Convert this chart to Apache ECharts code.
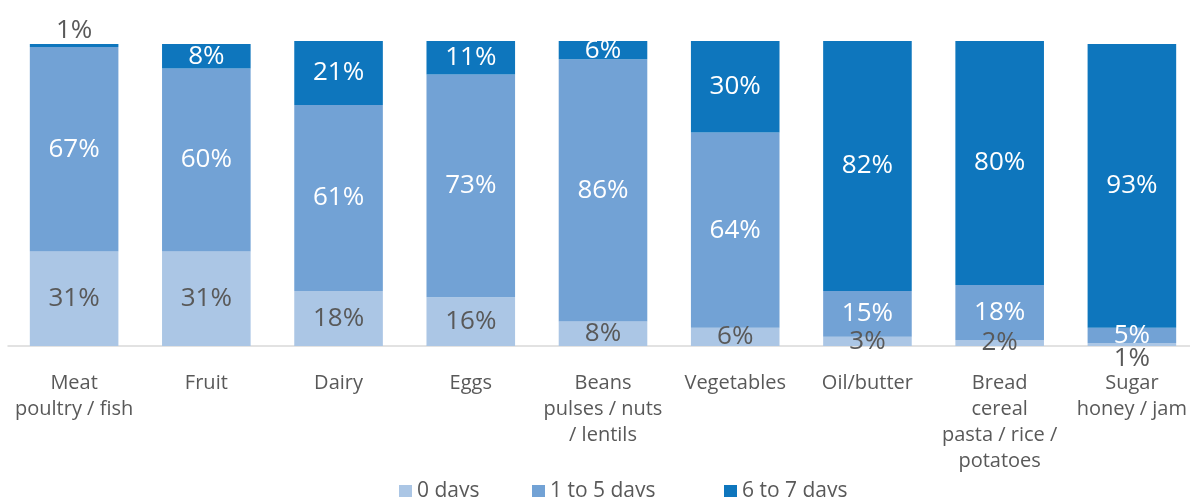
<!DOCTYPE html>
<html lang="en">
<head>
    <meta charset="UTF-8">
    <title>Days eaten per week</title>
    <script type="text/javascript" src="https://cdn.jsdelivr.net/npm/echarts@6/dist/echarts.min.js"></script>
    <style>
        html, body { margin: 0; padding: 0; background: #fff; }
        #main { width: 1190px; height: 497px; }
    </style>
</head>
<body>
<div id="main"></div>
<script type="text/javascript">
    // 数据
    var categories = ['Meat\npoultry / fish', 'Fruit', 'Dairy', 'Eggs', 'Beans\npulses / nuts\n/ lentils',
        'Vegetables', 'Oil/butter', 'Bread\ncereal\npasta / rice /\npotatoes', 'Sugar\nhoney / jam'];
    var zeroDays = [31, 31, 18, 16, 8, 6, 3, 2, 1];
    var oneToFive = [67, 60, 61, 73, 86, 64, 15, 18, 5];
    var sixToSeven = [1, 8, 21, 11, 6, 30, 82, 80, 93];
    var seriesNames = ['0 days', '1 to 5 days', '6 to 7 days'];

    var colors = ['#abc6e5', '#72a2d5', '#0e76bd'];
    var grey = '#595959';
    var font = 'Open Sans';

    var myChart = echarts.init(document.getElementById('main'));

    // 特殊的标签位置
    var lightData = zeroDays.map(function (v, i) {
        if (i === 8) {
            return {value: v, label: {position: 'bottom', distance: 0}};
        }
        return v;
    });
    var darkData = sixToSeven.map(function (v, i) {
        if (i === 0) {
            return {value: v, label: {position: 'top', distance: 0, color: grey}};
        }
        return v;
    });

    function makeSeries(name, data, color, labelColor) {
        return {
            name: name,
            type: 'bar',
            stack: 'total',
            barWidth: '67%',
            data: data,
            itemStyle: {color: color},
            label: {
                show: true,
                position: 'inside',
                formatter: '{c}%',
                color: labelColor,
                fontFamily: font,
                fontSize: 26
            }
        };
    }

    var legendBase = {
        top: 476,
        itemWidth: 13,
        itemHeight: 13,
        icon: 'rect',
        textStyle: {color: grey, fontSize: 21, fontFamily: font}
    };

    var option = {
        animation: false,
        grid: {left: 8, top: 41, width: 1190, height: 305, outerBoundsMode: 'none', containLabel: false},
        legend: [
            Object.assign({left: 394, data: [seriesNames[0]]}, legendBase),
            Object.assign({left: 527, data: [seriesNames[1]]}, legendBase),
            Object.assign({left: 719, data: [seriesNames[2]]}, legendBase)
        ],
        xAxis: {
            type: 'category',
            data: categories,
            axisLine: {lineStyle: {color: '#d9d9d9', width: 1.5}},
            axisTick: {show: false},
            axisLabel: {
                interval: 0,
                color: grey,
                fontFamily: font,
                fontSize: 20,
                lineHeight: 26,
                margin: 24
            }
        },
        yAxis: {
            type: 'value',
            min: 0,
            max: 100,
            show: false,
            splitLine: {show: false}
        },
        series: [
            makeSeries(seriesNames[0], lightData, colors[0], grey),
            makeSeries(seriesNames[1], oneToFive, colors[1], '#fff'),
            makeSeries(seriesNames[2], darkData, colors[2], '#fff')
        ]
    };
    myChart.setOption(option);
</script>
</body>
</html>
